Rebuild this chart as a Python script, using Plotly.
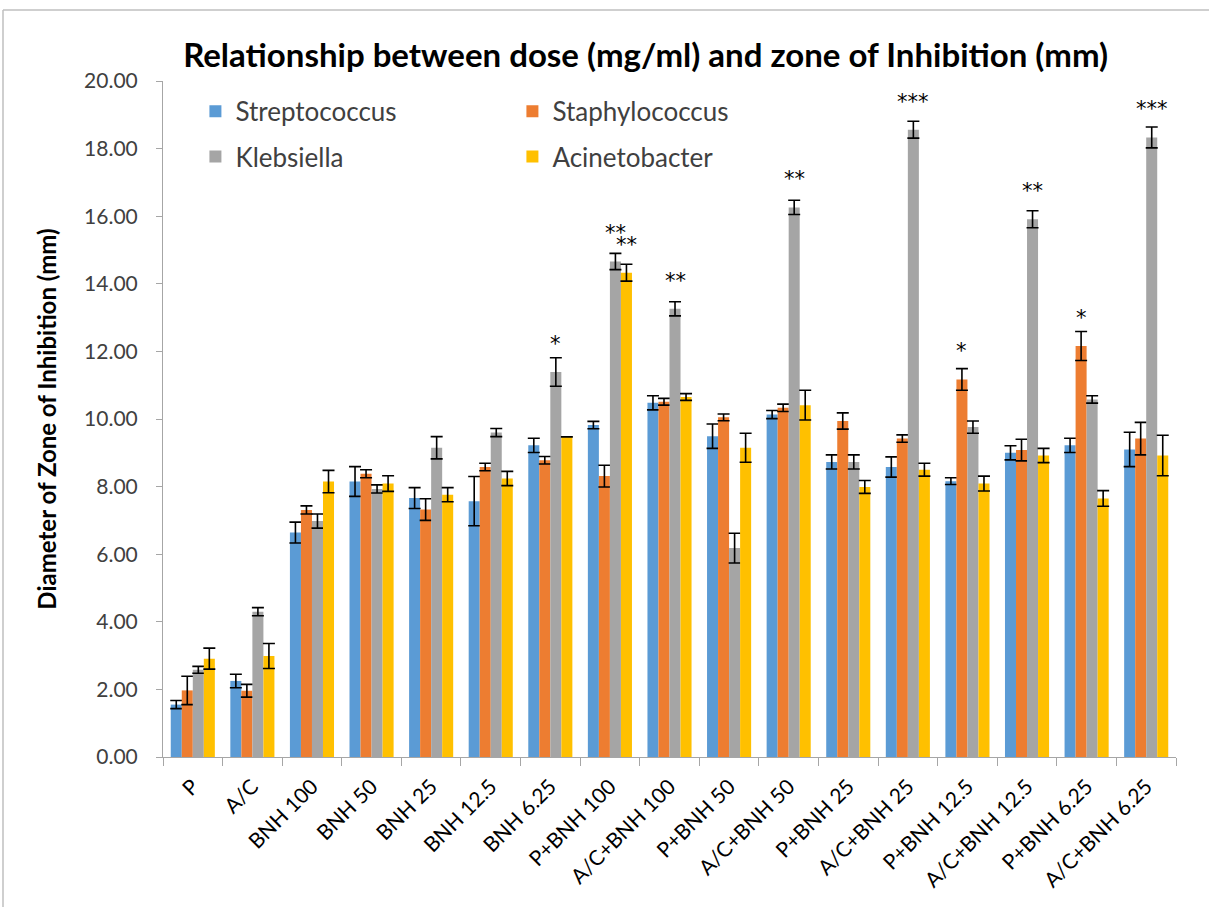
import plotly.graph_objects as go

categories = ["P", "A/C", "BNH 100", "BNH 50", "BNH 25", "BNH 12.5", "BNH 6.25",
              "P+BNH 100", "A/C+BNH 100", "P+BNH 50", "A/C+BNH 50", "P+BNH 25",
              "A/C+BNH 25", "P+BNH 12.5", "A/C+BNH 12.5", "P+BNH 6.25", "A/C+BNH 6.25"]

streptococcus = [1.55, 2.25, 6.64, 8.15, 7.66, 7.57, 9.22, 9.82, 10.48, 9.49, 10.13,
                 8.73, 8.58, 8.16, 9.00, 9.22, 9.10]
streptococcus_err = [0.12, 0.20, 0.31, 0.44, 0.31, 0.73, 0.21, 0.11, 0.21, 0.36, 0.12,
                     0.21, 0.30, 0.10, 0.21, 0.21, 0.51]

staphylococcus = [1.97, 1.96, 7.31, 8.38, 7.32, 8.58, 8.78, 8.31, 10.51, 10.05, 10.33,
                  9.94, 9.42, 11.17, 9.08, 12.16, 9.42]
staphylococcus_err = [0.42, 0.19, 0.12, 0.12, 0.32, 0.11, 0.11, 0.32, 0.10, 0.10, 0.11,
                      0.24, 0.11, 0.32, 0.32, 0.43, 0.48]

klebsiella = [2.58, 4.30, 6.98, 7.93, 9.15, 9.60, 11.39, 14.66, 13.26, 6.18, 16.26,
              8.73, 18.56, 9.76, 15.91, 10.58, 18.33]
klebsiella_err = [0.10, 0.12, 0.21, 0.12, 0.33, 0.12, 0.42, 0.24, 0.21, 0.44, 0.21,
                  0.21, 0.25, 0.18, 0.25, 0.11, 0.31]

acinetobacter = [2.91, 2.99, 8.15, 8.09, 7.76, 8.24, 9.47, 14.33, 10.65, 9.15, 10.41,
                 7.99, 8.50, 8.09, 8.92, 7.65, 8.92]
acinetobacter_err = [0.31, 0.37, 0.33, 0.23, 0.21, 0.21, 0.00, 0.25, 0.10, 0.43, 0.44,
                     0.19, 0.19, 0.22, 0.21, 0.23, 0.60]

# significance marks shown above individual bars
staphylococcus_sig = ["", "", "", "", "", "", "", "", "", "", "", "", "", "*", "", "*", ""]
klebsiella_sig = ["", "", "", "", "", "", "*", "**", "**", "", "**", "", "***", "", "**", "", "***"]
acinetobacter_sig = ["", "", "", "", "", "", "", "**", "", "", "", "", "", "", "", "", ""]

y_ticks = [0, 2, 4, 6, 8, 10, 12, 14, 16, 18, 20]

FONT = "Lato"
STAR_FONT = "DejaVu Sans"
BARGAP = 0.26
N_SERIES = 4

series = [
    ("Streptococcus", streptococcus, streptococcus_err, "#5B9BD5", None, "legend"),
    ("Staphylococcus", staphylococcus, staphylococcus_err, "#ED7D31", staphylococcus_sig, "legend"),
    ("Klebsiella", klebsiella, klebsiella_err, "#A5A5A5", klebsiella_sig, "legend2"),
    ("Acinetobacter", acinetobacter, acinetobacter_err, "#FFC000", acinetobacter_sig, "legend2"),
]

fig = go.Figure()
annotations = []
bar_w = (1 - BARGAP) / N_SERIES
for k, (name, vals, errs, color, sig, leg) in enumerate(series):
    fig.add_trace(go.Bar(
        x=categories, y=vals, name=name, legend=leg,
        marker=dict(color=color, line=dict(width=0)),
        error_y=dict(type="data", array=errs, visible=True,
                     color="black", thickness=1.6, width=6),
    ))
    if sig:
        offset = -(1 - BARGAP) / 2 + (k + 0.5) * bar_w
        for i, s in enumerate(sig):
            if s:
                annotations.append(dict(
                    x=i + offset, y=vals[i], xref="x", yref="y", text=s,
                    showarrow=False, yanchor="middle", yshift=28,
                    font=dict(family=STAR_FONT, size=21, color="black"),
                ))

axis_color = "#A6A6A6"
legend_common = dict(orientation="h", x=0.032, xanchor="left", yanchor="top",
                     entrywidth=272, entrywidthmode="pixels", bgcolor="rgba(0,0,0,0)",
                     font=dict(family=FONT, size=26, color="#404040"),
                     traceorder="normal", itemwidth=30)

fig.update_layout(
    width=1209, height=907,
    margin=dict(l=163, r=33, t=81, b=150),
    paper_bgcolor="white", plot_bgcolor="white",
    barmode="group", bargap=BARGAP, bargroupgap=0,
    font=dict(family=FONT, color="black"),
    title=dict(text="<b>Relationship between dose (mg/ml) and zone of Inhibition (mm)</b>",
               x=0.534, xref="container", xanchor="center",
               y=1 - 55 / 907, yref="container", yanchor="middle",
               font=dict(family=FONT, size=33, color="black")),
    xaxis=dict(type="category", showline=True, linecolor=axis_color, linewidth=1,
               ticks="outside", tickson="boundaries", ticklen=8, tickcolor=axis_color,
               tickangle=-45, ticklabelstandoff=8,
               tickfont=dict(family=FONT, size=21, color="black"),
               showgrid=False, zeroline=False),
    yaxis=dict(range=[0, 20], tickvals=y_ticks, tickformat=".2f",
               showline=True, linecolor=axis_color, linewidth=1,
               ticks="outside", ticklen=6, tickcolor=axis_color,
               ticklabelstandoff=14,
               tickfont=dict(family=FONT, size=21, color="#404040"),
               showgrid=False, zeroline=False,
               title=dict(text="<b>Diameter of Zone of Inhibition (mm)</b>", standoff=20,
                          font=dict(family=FONT, size=24, color="black"))),
    legend=dict(legend_common, y=0.99),
    legend2=dict(legend_common, y=0.923),
    annotations=annotations,
    shapes=[
        dict(type="line", xref="paper", yref="paper",
             x0=(3 - 163) / 1013, x1=(1209 - 163) / 1013,
             y0=(757 - 10) / 676, y1=(757 - 10) / 676,
             line=dict(color="#BFBFBF", width=1.5)),
        dict(type="line", xref="paper", yref="paper",
             x0=(3 - 163) / 1013, x1=(3 - 163) / 1013,
             y0=(757 - 10) / 676, y1=(757 - 907) / 676,
             line=dict(color="#BFBFBF", width=1.5)),
    ],
)

fig.write_html("out.html")
